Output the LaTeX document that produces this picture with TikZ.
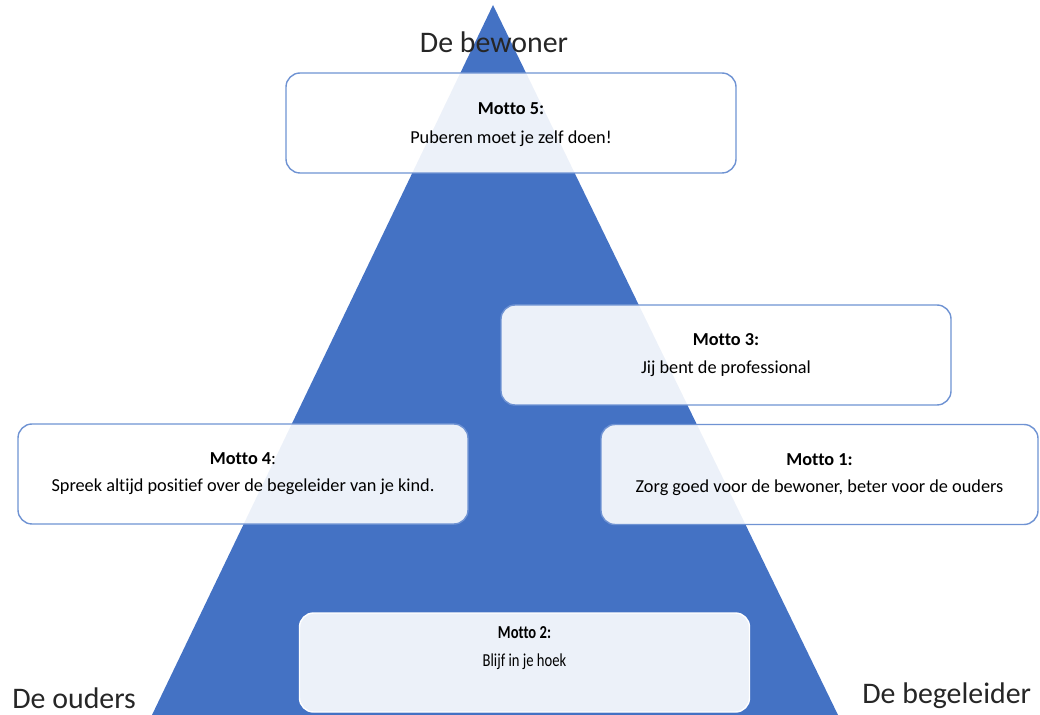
\documentclass[tikz,border=0pt]{standalone}
\usepackage{fontspec}
\setmainfont[Ligatures=NoCommon]{Carlito}
\usetikzlibrary{positioning}
\definecolor{pyrblue}{HTML}{4472C4}
\definecolor{edgeblue}{HTML}{6F93D3}
\definecolor{inktext}{HTML}{262626}
\begin{document}
\begin{tikzpicture}[x=0.02cm, y=-0.02cm,
            motto/.style = {draw=edgeblue, line width=0.8pt, rounded corners=8pt,
                fill=white, fill opacity=0.9, text opacity=1, text=black,
                minimum width=450*0.02cm, minimum height=100*0.02cm,
                align=center, font=\fontsize{10.4}{12.5}\selectfont},
            corner/.style = {text=inktext, font=\fontsize{17}{20}\selectfont, inner sep=0pt}]
    \useasboundingbox (0,0) rectangle (1040,715);
    % pyramid
    \fill[pyrblue] (493,5) coordinate (top) -- (838,715) coordinate (right)
        -- (152,715) coordinate (left) -- cycle;
    % corner labels
    \node[corner] (bewoner) at (494,42) {De bewoner};
    \node[corner, anchor=west] (ouders) at (12,698) {De ouders};
    \node[corner, anchor=west] (begeleider) at (862,696) {De begeleider};
    % motto boxes
    \node[motto] (m5) at (511,123) {};
    \node[align=center, font=\fontsize{10.4}{12.5}\selectfont]
        (m5text) at (511,125) {\textbf{Motto 5:}\\[4pt]Puberen moet je zelf doen!};
    \node[motto] (m3) at (726,355) {\textbf{Motto 3:}\\[3pt]Jij bent de professional};
    \node[motto] (m4) at (243,474) {\textbf{Motto 4}:\\[3pt]Spreek altijd positief over de begeleider van je kind.};
    \node[motto, minimum width=437*0.02cm] (m1) at (819.5,474.5) {\textbf{Motto 1:}\\[3pt]Zorg goed voor de bewoner, beter voor de ouders};
    \node[motto, draw=white, minimum height=99*0.02cm] (m2) at (524.5,662.5) {};
    \node[align=center, font=\fontsize{10.4}{12.5}\selectfont, xscale=0.8, transform shape]
        (m2text) at (524.5,648) {\textbf{Motto 2:}\\[3pt]Blijf in je hoek};
\end{tikzpicture}
\end{document}
